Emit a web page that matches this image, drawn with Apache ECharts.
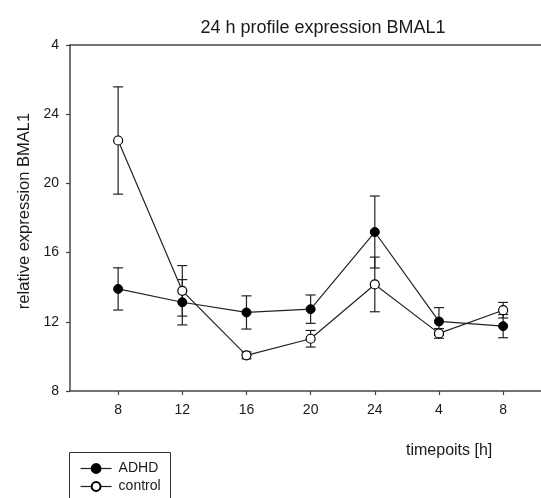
<!DOCTYPE html>
<html>
<head>
<meta charset="utf-8">
<script src="https://cdn.jsdelivr.net/npm/echarts@6/dist/echarts.min.js"></script>
<style>html,body{margin:0;padding:0;background:#fff}#c{width:541px;height:498px}</style>
</head>
<body>
<div id="c"></div>
<script>
const timeLabels = ['8','12','16','20','24','4','8'];
const yTickLabels = {8:'8',12:'12',16:'16',20:'20',24:'24',28:'4'};
const adhdMean = [13.9, 13.13, 12.54, 12.73, 17.19, 12.02, 11.75];
const adhdErr  = [1.22, 1.31, 0.96, 0.82, 2.08, 0.8, 0.67];
const ctrlMean = [22.48, 13.79, 10.06, 11.02, 14.16, 11.33, 12.67];
const ctrlErr  = [3.1, 1.46, 0.2, 0.48, 1.58, 0.28, 0.45];

const FONT = 'Liberation Sans, Arial, sans-serif';
const idx = timeLabels.map((_, i) => i);
const pts = (m) => m.map((v, i) => [i, v]);
const bars = (m, e) => m.map((v, i) => [i, v - e[i], v + e[i]]);

function errRender(params, api) {
  const x = api.value(0);
  const lo = api.coord([x, api.value(1)]);
  const hi = api.coord([x, api.value(2)]);
  const h = 5;
  const st = {stroke: '#222', lineWidth: 1.2};
  return {type: 'group', children: [
    {type: 'line', shape: {x1: lo[0], y1: lo[1], x2: hi[0], y2: hi[1]}, style: st},
    {type: 'line', shape: {x1: lo[0]-h, y1: lo[1], x2: lo[0]+h, y2: lo[1]}, style: st},
    {type: 'line', shape: {x1: hi[0]-h, y1: hi[1], x2: hi[0]+h, y2: hi[1]}, style: st}
  ]};
}

const chart = echarts.init(document.getElementById('c'), null, {renderer: 'canvas'});
chart.setOption({
  animation: false,
  backgroundColor: '#fff',
  title: [
    {text: '24 h profile expression BMAL1', left: 318, top: 14, textAlign: 'center',
     textStyle: {fontFamily: FONT, fontSize: 18, fontWeight: 'normal', color: '#1a1a1a'}},
    {text: 'timepoits [h]', left: 401, top: 438,
     textStyle: {fontFamily: FONT, fontSize: 16, fontWeight: 'normal', color: '#1a1a1a'}}
  ],
  grid: {left: 70, top: 45, right: 0, bottom: 107, show: false},
  legend: {
    orient: 'vertical', left: 80, top: 461,
    padding: 0, itemGap: 3, itemWidth: 31, itemHeight: 11,
    lineStyle: {width: 1.2},
    textStyle: {fontFamily: FONT, fontSize: 14, color: '#1a1a1a', lineHeight: 15, padding: [0, 0, 0, 2]},
    data: ['ADHD', 'control']
  },
  graphic: [
    {type: 'rect', silent: true, shape: {x: 69.5, y: 452.5, width: 101, height: 70},
     style: {fill: 'none', stroke: '#333', lineWidth: 1}}
  ],
  xAxis: [{
    type: 'value', min: -0.75, max: 6.59,
    splitLine: {show: false},
    axisLine: {onZero: false, lineStyle: {color: '#444', width: 1.5}},
    axisTick: {show: true, length: 4, customValues: idx, lineStyle: {color: '#444', width: 1.2}},
    axisLabel: {customValues: idx, margin: 12, fontFamily: FONT, fontSize: 14, color: '#1a1a1a',
      formatter: (v) => timeLabels[Math.round(v)]}
  }, {
    type: 'value', position: 'top', min: -0.75, max: 6.59,
    splitLine: {show: false},
    axisLine: {show: true, onZero: false, lineStyle: {color: '#444', width: 1.5}},
    axisTick: {show: false}, axisLabel: {show: false}
  }],
  yAxis: {
    type: 'value', min: 8, max: 28, interval: 4,
    name: 'relative expression BMAL1', nameLocation: 'middle', nameRotate: 90, nameGap: 32,
    nameTextStyle: {fontFamily: FONT, fontSize: 16.5, color: '#1a1a1a', padding: [0, 0, 0, 14]},
    splitLine: {show: false},
    axisLine: {show: true, onZero: false, lineStyle: {color: '#444', width: 1.5}},
    axisTick: {show: true, length: 4, lineStyle: {color: '#444', width: 1.2}},
    axisLabel: {margin: 11, fontFamily: FONT, fontSize: 14, color: '#1a1a1a',
      formatter: (v) => yTickLabels[v] !== undefined ? yTickLabels[v] : ''}
  },
  series: [
    {type: 'custom', name: 'adhdErr', renderItem: errRender, data: bars(adhdMean, adhdErr), z: 1, silent: true},
    {type: 'custom', name: 'ctrlErr', renderItem: errRender, data: bars(ctrlMean, ctrlErr), z: 1, silent: true},
    {type: 'line', name: 'ADHD', data: pts(adhdMean), z: 3, symbol: 'circle', symbolSize: 9,
     lineStyle: {color: '#222', width: 1.2}, itemStyle: {color: '#000', borderColor: '#000', borderWidth: 1}},
    {type: 'line', name: 'control', data: pts(ctrlMean), z: 3, symbol: 'circle', symbolSize: 9,
     lineStyle: {color: '#222', width: 1.2}, itemStyle: {color: '#fff', borderColor: '#000', borderWidth: 1.2}}
  ]
});
</script>
</body>
</html>
